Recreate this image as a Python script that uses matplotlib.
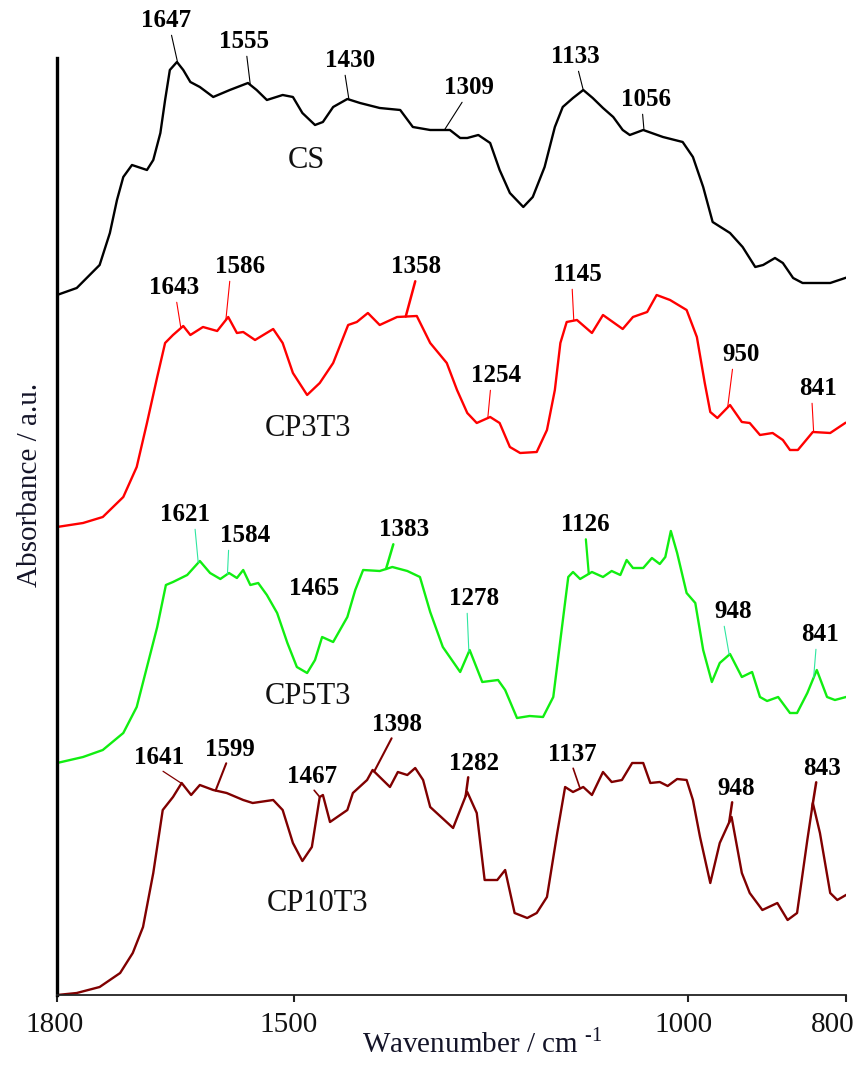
### Imports ###
import numpy as np
import matplotlib
matplotlib.use('Agg')
import matplotlib.pyplot as plt
from matplotlib.transforms import ScaledTranslation

### Data ###
# Wavenumber (cm-1) and stacked absorbance (a.u.) for each sample
cs_wn = [1800, 1775, 1746, 1733, 1724, 1716, 1705, 1686, 1678, 1669, 1663, 1657,
         1648, 1640, 1631, 1619, 1602, 1581, 1558, 1547, 1534, 1514, 1501, 1489,
         1473, 1463, 1450, 1432, 1416, 1391, 1365, 1349, 1327, 1302, 1289, 1280,
         1266, 1251, 1239, 1226, 1209, 1197, 1182, 1169, 1159, 1146, 1133, 1121,
         1108, 1095, 1083, 1074, 1057, 1032, 1007, 994, 981, 969, 947, 931, 915,
         905, 890, 880, 867, 855, 820, 801]
cs_abs = [7.00, 7.07, 7.30, 7.62, 7.95, 8.18, 8.30, 8.25, 8.35, 8.62, 8.95, 9.25,
          9.33, 9.25, 9.13, 9.08, 8.98, 9.05, 9.12, 9.05, 8.95, 9.00, 8.98, 8.82,
          8.70, 8.73, 8.88, 8.96, 8.92, 8.87, 8.85, 8.68, 8.65, 8.65, 8.57, 8.57,
          8.60, 8.52, 8.25, 8.02, 7.88, 7.98, 8.28, 8.68, 8.88, 8.97, 9.05, 8.97,
          8.87, 8.78, 8.65, 8.60, 8.65, 8.58, 8.53, 8.38, 8.08, 7.73, 7.62, 7.48,
          7.28, 7.30, 7.37, 7.32, 7.17, 7.12, 7.12, 7.17]

cp3_wn = [1800, 1767, 1742, 1716, 1699, 1686, 1673, 1663, 1653, 1640, 1631, 1615,
          1597, 1583, 1572, 1564, 1549, 1526, 1514, 1501, 1483, 1467, 1450, 1431,
          1420, 1406, 1391, 1369, 1344, 1327, 1306, 1293, 1280, 1268, 1251, 1239,
          1226, 1213, 1192, 1179, 1169, 1162, 1154, 1141, 1122, 1108, 1083, 1070,
          1052, 1040, 1023, 1002, 989, 979, 972, 963, 947, 932, 922, 909, 893, 880,
          871, 861, 842, 820, 801]
cp3_abs = [4.68, 4.72, 4.78, 4.98, 5.28, 5.72, 6.18, 6.52, 6.60, 6.69, 6.60, 6.68,
           6.64, 6.78, 6.62, 6.63, 6.55, 6.66, 6.52, 6.22, 6.00, 6.12, 6.32, 6.70,
           6.73, 6.82, 6.70, 6.78, 6.79, 6.52, 6.32, 6.05, 5.82, 5.72, 5.78, 5.72,
           5.48, 5.42, 5.43, 5.65, 6.05, 6.52, 6.73, 6.75, 6.62, 6.80, 6.66, 6.78,
           6.83, 7.00, 6.95, 6.85, 6.58, 6.12, 5.83, 5.77, 5.90, 5.73, 5.72, 5.60,
           5.62, 5.55, 5.45, 5.45, 5.63, 5.62, 5.72]

cp5_wn = [1800, 1767, 1742, 1716, 1699, 1686, 1673, 1662, 1653, 1635, 1619, 1606,
          1593, 1582, 1572, 1564, 1555, 1545, 1534, 1521, 1508, 1496, 1483, 1473,
          1464, 1450, 1432, 1422, 1412, 1391, 1375, 1356, 1340, 1327, 1311, 1289,
          1277, 1261, 1241, 1232, 1217, 1201, 1184, 1171, 1162, 1152, 1146, 1137,
          1122, 1108, 1097, 1086, 1078, 1070, 1057, 1046, 1036, 1029, 1022, 1014,
          1002, 991, 981, 970, 960, 947, 932, 919, 909, 900, 886, 871, 862, 849,
          837, 824, 814, 800]
cp5_abs = [2.32, 2.38, 2.45, 2.62, 2.88, 3.28, 3.68, 4.10, 4.13, 4.20, 4.34, 4.22,
           4.16, 4.22, 4.17, 4.25, 4.10, 4.12, 4.00, 3.82, 3.52, 3.28, 3.22, 3.35,
           3.58, 3.53, 3.78, 4.05, 4.25, 4.24, 4.28, 4.24, 4.18, 3.83, 3.48, 3.23,
           3.45, 3.13, 3.15, 3.05, 2.77, 2.79, 2.78, 2.98, 3.55, 4.18, 4.23, 4.16,
           4.23, 4.18, 4.24, 4.20, 4.35, 4.27, 4.27, 4.37, 4.31, 4.38, 4.64, 4.42,
           4.02, 3.92, 3.45, 3.13, 3.32, 3.41, 3.18, 3.23, 2.98, 2.94, 2.98, 2.82,
           2.82, 3.02, 3.25, 2.98, 2.95, 2.98]

cp10_wn = [1800, 1775, 1746, 1720, 1704, 1691, 1678, 1666, 1653, 1642, 1630, 1619,
           1602, 1585, 1564, 1552, 1526, 1514, 1501, 1489, 1477, 1467, 1463, 1454,
           1432, 1425, 1407, 1400, 1378, 1368, 1356, 1346, 1336, 1327, 1298, 1280,
           1268, 1258, 1242, 1232, 1220, 1204, 1192, 1179, 1166, 1156, 1146, 1133,
           1122, 1108, 1097, 1084, 1071, 1057, 1048, 1036, 1026, 1014, 1002, 994,
           985, 972, 960, 945, 932, 922, 906, 887, 874, 862, 849, 842, 833, 820,
           811, 800]
cp10_abs = [0.00, 0.02, 0.08, 0.22, 0.42, 0.68, 1.22, 1.85, 1.98, 2.12, 2.00, 2.10,
            2.05, 2.02, 1.95, 1.92, 1.95, 1.85, 1.52, 1.34, 1.48, 1.98, 2.00, 1.73,
            1.85, 2.02, 2.15, 2.25, 2.08, 2.23, 2.20, 2.27, 2.15, 1.88, 1.67, 2.03,
            1.82, 1.15, 1.15, 1.25, 0.82, 0.77, 0.82, 0.98, 1.62, 2.08, 2.03, 2.08,
            2.00, 2.23, 2.13, 2.15, 2.32, 2.32, 2.12, 2.13, 2.09, 2.16, 2.15, 1.95,
            1.58, 1.12, 1.52, 1.78, 1.22, 1.02, 0.85, 0.92, 0.75, 0.82, 1.55, 1.92,
            1.62, 1.02, 0.95, 1.00]

sample_names = ['CS', 'CP3T3', 'CP5T3', 'CP10T3']

# Peak positions marked on each spectrum (cm-1)
cs_peaks = [1647, 1555, 1430, 1309, 1133, 1056]
cp3_peaks = [1643, 1586, 1358, 1254, 1145, 950, 841]
cp5_peaks = [1621, 1584, 1383, 1278, 1126, 948, 841]
cp10_peaks = [1641, 1599, 1467, 1398, 1282, 1137, 948, 843]
# Band quoted on CP5T3 without a marker line
cp5_extra = 1465

### Layout ###
# Per peak label: text x, text y (data units), marker line width and the
# horizontal point under the text where the marker line starts
cs_label_pos = [(1662, 9.74, 0.8, 0.6), (1563, 9.53, 0.8, 0.55),
                (1429, 9.34, 0.8, 0.4), (1278, 9.07, 0.8, 0.4),
                (1143, 9.38, 0.8, 0.55), (1053, 8.95, 0.8, 0.42)]
cp3_label_pos = [(1652, 7.07, 0.8, 0.55), (1568, 7.28, 0.8, 0.3),
                 (1345, 7.28, 1.8, 0.5), (1244, 6.19, 0.8, 0.4),
                 (1141, 7.20, 0.8, 0.4), (933, 6.40, 0.8, 0.28),
                 (836, 6.06, 0.8, 0.35)]
cp5_label_pos = [(1638, 4.80, 0.8, 0.7), (1562, 4.59, 0.8, 0.18),
                 (1360, 4.65, 1.8, 0.3), (1272, 3.96, 0.8, 0.37),
                 (1130, 4.70, 1.6, 0.5), (943, 3.83, 0.8, 0.25),
                 (833, 3.60, 0.8, 0.4)]
cp10_label_pos = [(1671, 2.38, 0.9, 0.5), (1581, 2.46, 1.5, 0.45),
                  (1477, 2.19, 1.2, 0.5), (1369, 2.71, 1.5, 0.42),
                  (1272, 2.32, 1.8, 0.4), (1147, 2.41, 1.2, 0.5),
                  (939, 2.07, 1.8, 0.4), (830, 2.27, 1.8, 0.35)]
name_pos = [(1484, 8.34), (1482, 5.66), (1482, 2.98), (1470, 0.92)]

curve_colors = ['black', '#ff0000', '#11ee11', '#800000']
marker_colors = ['black', '#ff0000', '#2ee6a0', '#800000']

### Style ###
plt.rcParams['font.family'] = ['Liberation Serif', 'DejaVu Serif']
plt.rcParams['mathtext.fontset'] = 'custom'
plt.rcParams['mathtext.rm'] = 'Liberation Serif'
label_color = '#141428'


def mark_peaks(ax, wn, absorb, peaks, label_pos, color, thick_color):
    """Write the peak wavenumbers above a spectrum with thin marker lines."""
    # np.interp wants increasing x
    xp = np.asarray(wn)[::-1]
    fp = np.asarray(absorb)[::-1]
    for peak, (tx, ty, lw, rx) in zip(peaks, label_pos):
        tip = np.interp(peak, xp, fp)
        # heavier marker lines are drawn in the curve colour itself
        line_color = thick_color if lw >= 1.5 else color
        ax.annotate(str(peak), xy=(peak, tip), xytext=(tx, ty),
                    textcoords='data', ha='center', va='center',
                    fontsize=18, fontweight='bold', color='black',
                    annotation_clip=False,
                    arrowprops=dict(arrowstyle='-', color=line_color, lw=lw,
                                    shrinkA=0, shrinkB=0, relpos=(rx, 0.0)))


### Figure ###
fig = plt.figure(figsize=(8.6, 10.66), dpi=100)
ax = fig.add_axes([0.0663, 0.0666, 0.9174, 0.879])

spectra = [(cs_wn, cs_abs, cs_peaks, cs_label_pos),
           (cp3_wn, cp3_abs, cp3_peaks, cp3_label_pos),
           (cp5_wn, cp5_abs, cp5_peaks, cp5_label_pos),
           (cp10_wn, cp10_abs, cp10_peaks, cp10_label_pos)]

for i, (wn, absorb, peaks, pos) in enumerate(spectra):
    ax.plot(wn, absorb, color=curve_colors[i], lw=1.7, solid_joinstyle='round')
    mark_peaks(ax, wn, absorb, peaks, pos, marker_colors[i], curve_colors[i])
    ax.text(name_pos[i][0], name_pos[i][1], sample_names[i], fontsize=22,
            ha='center', va='center', color='#111111')

# Extra band label on CP5T3 (no marker line)
ax.text(1474, 4.06, str(cp5_extra), fontsize=18, fontweight='bold',
        ha='center', va='center', color='black')

# Axes: reversed wavenumber scale, no y ticks
ax.set_xlim(1800, 800)
ax.set_ylim(0, 9.37)
for side in ['top', 'right']:
    ax.spines[side].set_visible(False)
ax.spines['left'].set_linewidth(2.4)
ax.spines['bottom'].set_linewidth(1.3)
ax.spines['bottom'].set_color('#222222')
ax.set_yticks([])
ax.set_xticks([1800, 1500, 1000, 800])
ax.tick_params(axis='x', direction='out', length=5, width=1.5,
               labelsize=21, pad=7, colors='#222222')
ax.tick_params(axis='x', labelcolor='#111111')

# Nudge the tick labels slightly left (last one more, to stay inside)
for lab, dx in zip(ax.get_xticklabels(), [-2, -5, -5, -13]):
    lab.set_transform(lab.get_transform() +
                      ScaledTranslation(dx / 100, 0, fig.dpi_scale_trans))

ax.set_xlabel(r'Wavenumber / cm $^{\text{-}1}$', fontsize=21, color=label_color)
ax.xaxis.set_label_coords(0.539, -0.036)
ax.set_ylabel('Absorbance / a.u.', fontsize=21, color=label_color)
ax.yaxis.set_label_coords(-0.018, 0.544)

fig.savefig('out.png', dpi=100)
